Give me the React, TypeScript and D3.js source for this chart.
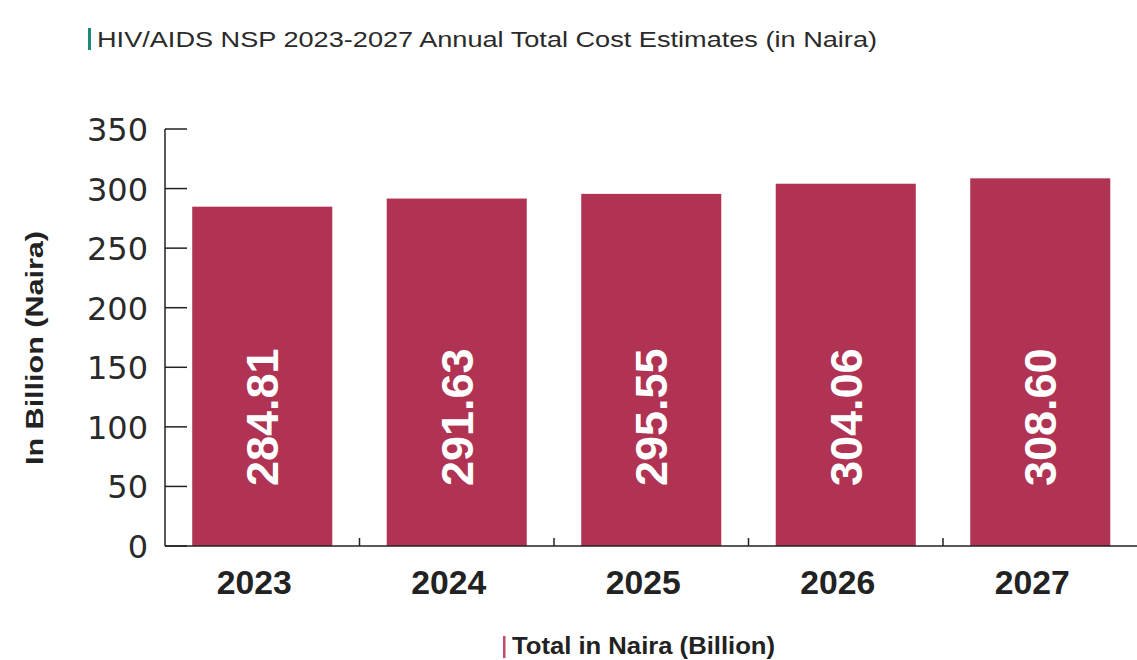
import React from "react";
import * as d3 from "d3";

const years = ["2023", "2024", "2025", "2026", "2027"];
const totals = [284.81, 291.63, 295.55, 304.06, 308.6];
const yTicks = [0, 50, 100, 150, 200, 250, 300, 350];
const title = "HIV/AIDS NSP 2023-2027 Annual Total Cost Estimates (in Naira)";
const yTitle = "In Billion (Naira)";
const legendLabel = "Total in Naira (Billion)";

const W = 1137;
const H = 660;
const BAR = "#b03354";

export default function App() {
  const x = d3.scaleBand<string>().domain(years).range([165, 1137.5]).paddingInner(0.28).paddingOuter(0.14);
  const y = d3.scaleLinear().domain([0, 350]).range([546, 129]);
  const boundaries = years.map((_, i) => 165 + i * x.step());
  return (
    <svg width={W} height={H} style={{ position: "absolute", left: 0, top: 0, background: "#fff" }}>
      <rect x={0} y={0} width={W} height={H} fill="#fff" />
      {/* title */}
      <rect x={88} y={28} width={3} height={22} fill="#1a8a7c" />
      <text x={97} y={47} fontFamily="Liberation Sans, Arial, sans-serif" fontSize={22} fill="#2a2a2a"
        textLength={780} lengthAdjust="spacingAndGlyphs">{title}</text>
      {/* bars */}
      {totals.map((v, i) => (
        <rect key={years[i]} x={x(years[i])} y={y(v)} width={x.bandwidth()} height={y(0) - y(v)} fill={BAR} />
      ))}
      {/* value labels */}
      {totals.map((v, i) => (
        <text key={"l" + years[i]}
          transform={`translate(${(x(years[i]) as number) + x.bandwidth() / 2 + 16},${y(0) - 60}) rotate(-90)`}
          fontFamily="Liberation Sans, Arial, sans-serif" fontWeight="bold" fontSize={45} fill="#fff"
          textAnchor="start">{v.toFixed(2)}</text>
      ))}
      {/* y axis */}
      <line x1={165} x2={165} y1={y(350)} y2={y(0)} stroke="#222" strokeWidth={1.5} />
      {yTicks.map((t) => (
        <g key={t}>
          <line x1={165} x2={187} y1={y(t)} y2={y(t)} stroke="#222" strokeWidth={1.5} />
          <text x={148} y={y(t) + 12} textAnchor="end" fontFamily="DejaVu Sans, sans-serif" fontWeight="normal"
            fontSize={32} fill="#2a2a2a">{t}</text>
        </g>
      ))}
      {/* x axis */}
      <line x1={165} x2={W} y1={y(0)} y2={y(0)} stroke="#222" strokeWidth={1.5} />
      {boundaries.slice(1).map((b, i) => (
        <line key={i} x1={b} x2={b} y1={y(0)} y2={y(0) - 8} stroke="#222" strokeWidth={1.5} />
      ))}
      {years.map((yr) => (
        <text key={"x" + yr} x={(x(yr) as number) + x.bandwidth() / 2 - 8} y={594} textAnchor="middle"
          fontFamily="Liberation Sans, Arial, sans-serif" fontWeight="bold" fontSize={34} fill="#222"
          textLength={75} lengthAdjust="spacingAndGlyphs">{yr}</text>
      ))}
      {/* y title */}
      <text transform={`translate(43,348) rotate(-90)`} textAnchor="middle"
        fontFamily="Liberation Sans, Arial, sans-serif" fontWeight="bold" fontSize={24} fill="#222"
        textLength={234} lengthAdjust="spacingAndGlyphs">{yTitle}</text>
      {/* legend */}
      <rect x={503} y={636} width={2.5} height={22} fill="#c04a6a" />
      <text x={512} y={654} fontFamily="Liberation Sans, Arial, sans-serif" fontWeight="bold" fontSize={23}
        fill="#222" textLength={263} lengthAdjust="spacingAndGlyphs">{legendLabel}</text>
    </svg>
  );
}
